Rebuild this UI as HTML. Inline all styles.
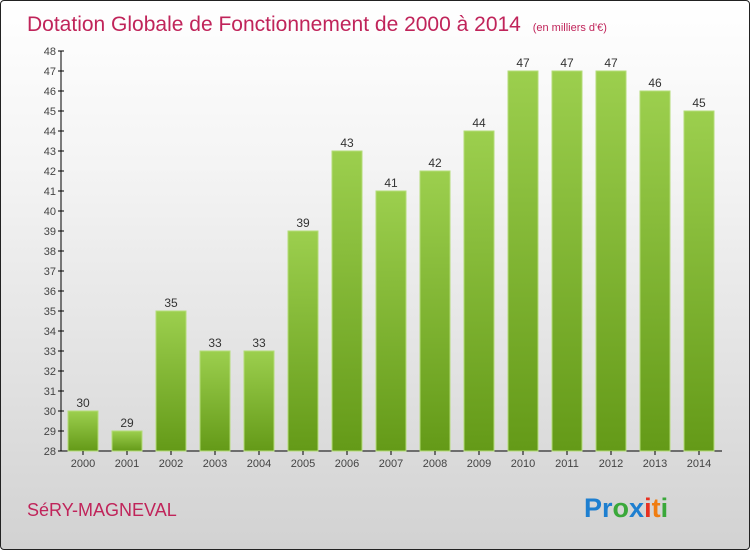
<!DOCTYPE html>
<html><head><meta charset="utf-8"><style>
body{margin:0}
#wrap{position:relative;width:748px;height:548px;border:1px solid #222;border-radius:4px;background:linear-gradient(#ffffff,#f4f4f4 30%,#d2d2d2);overflow:hidden;font-family:"Liberation Sans",sans-serif}
</style></head><body>
<div id="wrap">
<svg id="c" width="748" height="548">
<defs><linearGradient id="g" x1="0" y1="0" x2="0" y2="1"><stop offset="0" stop-color="#9ccf4e"/><stop offset="1" stop-color="#649a18"/></linearGradient></defs>
<text x="26" y="30" font-size="21" fill="#c0245a">Dotation Globale de Fonctionnement de 2000 à 2014 <tspan font-size="11" dx="6">(en milliers d'€)</tspan></text>
<text x="26" y="515" font-size="18" fill="#c0245a">SéRY-MAGNEVAL</text>
<text x="583" y="516" font-size="27" font-weight="bold"><tspan fill="#1e7fd0">Pr</tspan><tspan fill="#3aa83a">o</tspan><tspan fill="#1e7fd0">x</tspan><tspan fill="#e83020">i</tspan><tspan fill="#f07d10">t</tspan><tspan fill="#3aa83a">i</tspan></text>
</svg>
</div>
<script>
const years=["2000","2001","2002","2003","2004","2005","2006","2007","2008","2009","2010","2011","2012","2013","2014"];
const values=[30,29,35,33,33,39,43,41,42,44,47,47,47,46,45];
const yTicks=[28,29,30,31,32,33,34,35,36,37,38,39,40,41,42,43,44,45,46,47,48];
const svg=document.getElementById('c');const NS='http://www.w3.org/2000/svg';
const y=v=>450-(v-28)*20, x=i=>82+i*44;
function mk(t,a,txt){const e=document.createElementNS(NS,t);for(const k in a)e.setAttribute(k,a[k]);if(txt!==undefined)e.textContent=txt;svg.appendChild(e);return e;}
let ax=mk('line',{x1:60,y1:50,x2:60,y2:450,stroke:'#000'});

let bx=mk('line',{x1:60,y1:450,x2:721,y2:450,stroke:'#000'});

yTicks.forEach(t=>{let l=mk('line',{x1:57,x2:63,y1:y(t),y2:y(t),stroke:'#000'});

let tx=mk('text',{x:55,y:y(t)+4,'text-anchor':'end','font-size':11,fill:'#444'},t);
});
values.forEach((v,i)=>{let r=mk('rect',{x:x(i)-15,y:y(v),width:30,height:450-y(v),fill:'url(#g)',stroke:'#b4dc78','stroke-width':1});

let l=mk('text',{x:x(i),y:y(v)-4,'text-anchor':'middle','font-size':12,fill:'#333'},v);

let k=mk('line',{x1:x(i),x2:x(i),y1:450,y2:454,stroke:'#000'});

let t=mk('text',{x:x(i),y:466,'text-anchor':'middle','font-size':11,fill:'#444'},years[i]);
});
</script>
</body></html>
